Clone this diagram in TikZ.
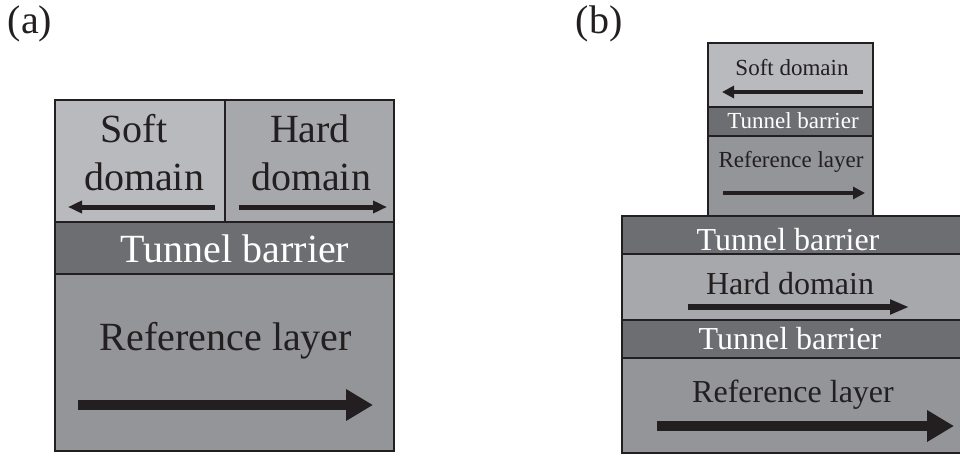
\documentclass[tikz,border=0pt]{standalone}
\usepackage{fontspec}
\setmainfont{Liberation Serif}
\usetikzlibrary{arrows.meta}
\definecolor{softc}{HTML}{B9BABE}
\definecolor{hardc}{HTML}{A7A8AC}
\definecolor{tunc}{HTML}{6D6E71}
\definecolor{refc}{HTML}{939598}
\definecolor{inkc}{HTML}{231F20}
\tikzset{
  layer/.style={draw=inkc, line width=1.5pt},
  txt/.style={anchor=base, inner sep=0pt, text=inkc},
  wtxt/.style={anchor=base, inner sep=0pt, text=white},
  bigfont/.style={font=\fontsize{40}{48}\selectfont},
  midfont/.style={font=\fontsize{32}{38}\selectfont},
  smallfont/.style={font=\fontsize{23}{27}\selectfont},
  thinarrow/.style={draw=inkc, line width=5pt, -{Triangle[length=14pt,width=12pt]}},
  smallarrow/.style={draw=inkc, line width=4pt, -{Triangle[length=12pt,width=12pt]}},
  midarrow/.style={draw=inkc, line width=5.5pt, -{Triangle[length=19pt,width=14pt]}},
  fatarrow/.style={draw=inkc, line width=10pt, -{Triangle[length=27pt,width=30pt]}}
}
\begin{document}
\begin{tikzpicture}[x=1pt,y=-1pt]
\useasboundingbox (0,0) rectangle (960,456);
\fill[white] (0,0) rectangle (960,456);
% ---- panel (a)
\path[layer,fill=softc] (55,100) rectangle (225,222);
\path[layer,fill=hardc] (225,100) rectangle (394,222);
\path[layer,fill=tunc] (55,222) rectangle (394,274);
\path[layer,fill=refc] (55,274) rectangle (394,451);
\node[txt,bigfont] (la) at (30,33) {(a)};
\node[txt,bigfont] (as1) at (134,142) {Soft};
\node[txt,bigfont] (as2) at (144,190) {domain};
\node[txt,bigfont] (ah1) at (310,142) {Hard};
\node[txt,bigfont] (ah2) at (311,190) {domain};
\node[wtxt,bigfont] (at) at (235,262) {Tunnel barrier};
\node[txt,bigfont] (ar) at (226,350) {Reference layer};
\coordinate (as0) at (215,207); \coordinate (as9) at (68,207);
\coordinate (ah0) at (239,207); \coordinate (ah9) at (387,207);
\coordinate (ar0) at (78,405);  \coordinate (ar9) at (373,405);
\draw[thinarrow] (as0) -- (as9);
\draw[thinarrow] (ah0) -- (ah9);
\draw[fatarrow] (ar0) -- (ar9);
% ---- panel (b)
\path[layer,fill=softc] (708,43) rectangle (873,107);
\path[layer,fill=tunc] (708,107) rectangle (873,136);
\path[layer,fill=refc] (708,136) rectangle (873,216);
\path[layer,fill=tunc] (622,216) rectangle (966,254);
\path[layer,fill=hardc] (622,254) rectangle (966,320);
\path[layer,fill=tunc] (622,320) rectangle (966,358);
\path[layer,fill=refc] (622,358) rectangle (966,453);
\node[txt,bigfont] (lb) at (599,33) {(b)};
\node[txt,smallfont] (bs) at (792,75) {Soft domain};
\node[wtxt,smallfont] (bt1) at (793,128) {Tunnel barrier};
\node[txt,smallfont] (br1) at (791,167) {Reference layer};
\node[wtxt,midfont] (bt2) at (788,250) {Tunnel barrier};
\node[txt,midfont] (bh) at (790,294) {Hard domain};
\node[wtxt,midfont] (bt3) at (790,349) {Tunnel barrier};
\node[txt,midfont] (br2) at (793,402) {Reference layer};
\coordinate (bs0) at (863,92);  \coordinate (bs9) at (722,92);
\coordinate (br10) at (723,193); \coordinate (br19) at (865,193);
\coordinate (bh0) at (688,307); \coordinate (bh9) at (909,307);
\coordinate (br20) at (657,426); \coordinate (br29) at (954,426);
\draw[smallarrow] (bs0) -- (bs9);
\draw[smallarrow] (br10) -- (br19);
\draw[midarrow] (bh0) -- (bh9);
\draw[fatarrow] (br20) -- (br29);
\end{tikzpicture}
\end{document}
